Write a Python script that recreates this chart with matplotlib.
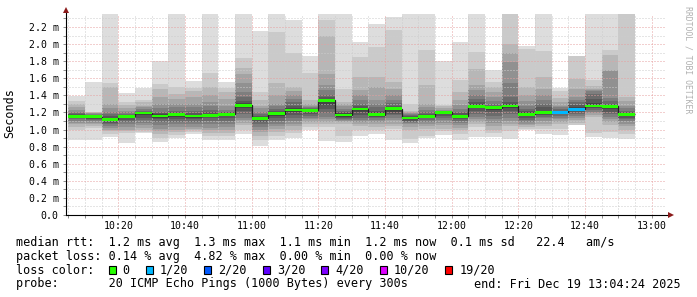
import numpy as np
import matplotlib
matplotlib.use("Agg")
import matplotlib.pyplot as plt
from matplotlib.patches import Rectangle

# ---------------- data ----------------
# start of each 5-minute smoke bar, minutes after 10:00
bar_start_min = list(range(5, 175, 5))

# median RTT (ms) for each bar
medians = [1.155, 1.15, 1.12, 1.155, 1.195, 1.16, 1.175, 1.16, 1.165, 1.18,
           1.285, 1.13, 1.185, 1.23, 1.225, 1.34, 1.17, 1.24, 1.175, 1.245,
           1.135, 1.155, 1.20, 1.155, 1.27, 1.255, 1.275, 1.18, 1.197, 1.20,
           1.237, 1.275, 1.27, 1.18]

# lost pings (of 20) per bar
loss = [0, 0, 0, 0, 0, 0, 0, 0, 0, 0,
        0, 0, 0, 0, 0, 0, 0, 0, 0, 0,
        0, 0, 0, 0, 0, 0, 0, 0, 0, 1,
        1, 0, 0, 0]

nan = float("nan")
# 20 sorted ping times (ms) per bar (values above 2.35 are off the chart)
pings = [
    [0.88, 1.00, 1.03, 1.06, 1.08, 1.10, 1.12, 1.13, 1.14, 1.15, 1.16, 1.17, 1.18, 1.19, 1.21, 1.23, 1.26, 1.30, 1.33, 1.39],
    [0.88, 1.02, 1.04, 1.06, 1.08, 1.10, 1.11, 1.12, 1.13, 1.145, 1.155, 1.16, 1.17, 1.175, 1.18, 1.19, 1.195, 1.20, 1.21, 1.56],
    [0.91, 0.95, 0.98, 1.00, 1.02, 1.04, 1.06, 1.08, 1.10, 1.115, 1.125, 1.14, 1.16, 1.18, 1.21, 1.25, 1.30, 1.50, 1.54, 2.50],
    [0.84, 0.96, 0.98, 1.00, 1.03, 1.06, 1.09, 1.11, 1.13, 1.15, 1.16, 1.165, 1.17, 1.18, 1.20, 1.22, 1.25, 1.29, 1.32, 1.43],
    [0.955, 0.97, 0.99, 1.02, 1.05, 1.08, 1.11, 1.14, 1.17, 1.19, 1.20, 1.205, 1.21, 1.22, 1.24, 1.26, 1.28, 1.32, 1.35, 1.49],
    [0.85, 0.90, 0.95, 0.98, 1.01, 1.05, 1.09, 1.12, 1.14, 1.16, 1.17, 1.18, 1.19, 1.21, 1.25, 1.30, 1.38, 1.47, 1.53, 1.80],
    [0.90, 0.94, 0.97, 1.00, 1.03, 1.06, 1.09, 1.12, 1.15, 1.17, 1.18, 1.19, 1.20, 1.22, 1.26, 1.30, 1.36, 1.42, 1.50, 2.50],
    [0.95, 0.97, 0.99, 1.01, 1.03, 1.06, 1.09, 1.12, 1.14, 1.16, 1.165, 1.17, 1.19, 1.22, 1.26, 1.30, 1.38, 1.45, 1.49, 1.57],
    [0.88, 0.93, 0.96, 0.99, 1.02, 1.06, 1.10, 1.13, 1.15, 1.165, 1.17, 1.18, 1.20, 1.23, 1.27, 1.32, 1.40, 1.50, 1.66, 2.50],
    [0.88, 0.93, 0.96, 0.99, 1.03, 1.07, 1.10, 1.13, 1.16, 1.18, 1.185, 1.19, 1.20, 1.21, 1.23, 1.28, 1.36, 1.44, 1.49, 1.56],
    [0.95, 1.00, 1.05, 1.08, 1.11, 1.14, 1.18, 1.22, 1.25, 1.28, 1.29, 1.31, 1.33, 1.38, 1.44, 1.55, 1.65, 1.72, 1.84, 2.50],
    [0.81, 0.88, 0.93, 0.97, 1.00, 1.03, 1.06, 1.09, 1.11, 1.13, 1.14, 1.15, 1.16, 1.18, 1.21, 1.25, 1.28, 1.35, 1.44, 2.15],
    [0.88, 0.93, 0.97, 1.01, 1.04, 1.07, 1.10, 1.13, 1.16, 1.18, 1.19, 1.20, 1.22, 1.24, 1.27, 1.30, 1.40, 1.55, 2.14, 2.50],
    [0.90, 0.96, 1.00, 1.04, 1.07, 1.10, 1.13, 1.17, 1.20, 1.225, 1.235, 1.25, 1.28, 1.32, 1.36, 1.40, 1.45, 1.50, 1.90, 2.28],
    [1.00, 1.03, 1.06, 1.09, 1.12, 1.14, 1.16, 1.18, 1.20, 1.22, 1.23, 1.235, 1.24, 1.25, 1.26, 1.28, 1.30, 1.34, 1.66, 1.86],
    [0.87, 1.03, 1.07, 1.09, 1.12, 1.15, 1.19, 1.24, 1.29, 1.335, 1.345, 1.36, 1.38, 1.40, 1.46, 1.52, 1.65, 2.10, 2.28, 2.50],
    [0.86, 0.93, 1.07, 1.09, 1.10, 1.11, 1.12, 1.13, 1.15, 1.165, 1.175, 1.19, 1.20, 1.22, 1.24, 1.27, 1.30, 1.32, 1.47, 2.50],
    [0.93, 1.00, 1.04, 1.07, 1.09, 1.11, 1.14, 1.17, 1.20, 1.235, 1.245, 1.25, 1.27, 1.30, 1.34, 1.40, 1.46, 1.61, 1.85, 2.03],
    [0.95, 1.00, 1.03, 1.06, 1.09, 1.11, 1.13, 1.15, 1.16, 1.17, 1.18, 1.20, 1.22, 1.26, 1.30, 1.34, 1.50, 1.61, 1.965, 2.24],
    [0.88, 1.01, 1.04, 1.07, 1.11, 1.14, 1.17, 1.185, 1.21, 1.24, 1.25, 1.26, 1.28, 1.31, 1.35, 1.40, 1.47, 1.555, 2.16, 2.32],
    [0.84, 0.89, 1.00, 1.03, 1.06, 1.08, 1.09, 1.10, 1.12, 1.13, 1.14, 1.15, 1.16, 1.17, 1.18, 1.19, 1.20, 1.22, 1.30, 2.50],
    [0.90, 0.93, 1.01, 1.04, 1.07, 1.09, 1.11, 1.13, 1.14, 1.15, 1.16, 1.17, 1.185, 1.20, 1.23, 1.26, 1.30, 1.52, 1.93, 2.50],
    [0.94, 0.98, 1.01, 1.05, 1.08, 1.11, 1.14, 1.16, 1.18, 1.195, 1.20, 1.205, 1.21, 1.215, 1.22, 1.23, 1.25, 1.27, 1.29, 1.80],
    [0.88, 0.95, 0.99, 1.02, 1.05, 1.08, 1.10, 1.12, 1.14, 1.15, 1.16, 1.17, 1.19, 1.205, 1.24, 1.29, 1.34, 1.44, 1.575, 2.02],
    [0.91, 1.03, 1.06, 1.09, 1.12, 1.15, 1.185, 1.22, 1.25, 1.27, 1.28, 1.30, 1.32, 1.36, 1.40, 1.46, 1.52, 1.71, 1.91, 2.50],
    [0.91, 0.96, 1.00, 1.04, 1.08, 1.12, 1.16, 1.20, 1.23, 1.25, 1.255, 1.265, 1.28, 1.30, 1.33, 1.38, 1.44, 1.50, 1.555, 1.70],
    [0.89, 0.98, 1.04, 1.07, 1.10, 1.14, 1.18, 1.22, 1.25, 1.275, 1.285, 1.295, 1.32, 1.38, 1.54, 1.79, 1.89, 2.00, 2.45, 2.50],
    [0.99, 1.01, 1.03, 1.05, 1.07, 1.09, 1.11, 1.13, 1.16, 1.18, 1.19, 1.20, 1.22, 1.245, 1.28, 1.33, 1.40, 1.50, 1.945, 1.98],
    [0.95, 1.01, 1.04, 1.07, 1.10, 1.13, 1.15, 1.17, 1.185, 1.195, 1.20, 1.22, 1.26, 1.30, 1.35, 1.40, 1.48, 1.61, 1.92, 2.50],
    [0.94, 1.01, 1.06, 1.09, 1.12, 1.14, 1.16, 1.18, 1.19, 1.20, 1.205, 1.21, 1.22, 1.24, 1.26, 1.28, 1.32, 1.37, 1.45, 1.49],
    [1.03, 1.05, 1.08, 1.11, 1.14, 1.16, 1.18, 1.20, 1.22, 1.235, 1.245, 1.26, 1.29, 1.32, 1.35, 1.38, 1.48, 1.59, 1.86, nan],
    [0.91, 0.96, 1.15, 1.17, 1.19, 1.21, 1.23, 1.25, 1.26, 1.27, 1.285, 1.31, 1.36, 1.42, 1.45, 1.46, 1.47, 1.51, 1.58, 2.50],
    [0.90, 0.97, 1.05, 1.09, 1.12, 1.15, 1.18, 1.21, 1.24, 1.265, 1.275, 1.29, 1.30, 1.33, 1.37, 1.69, 1.70, 1.87, 1.93, 2.50],
    [0.89, 0.95, 1.00, 1.04, 1.07, 1.10, 1.12, 1.14, 1.16, 1.18, 1.185, 1.19, 1.20, 1.22, 1.25, 1.28, 1.33, 1.38, 2.45, 2.50],
]

x_tick_labels = ["10:20", "10:40", "11:00", "11:20", "11:40", "12:00", "12:20", "12:40", "13:00"]
y_tick_values = [0.0, 0.2, 0.4, 0.6, 0.8, 1.0, 1.2, 1.4, 1.6, 1.8, 2.0, 2.2]
y_tick_labels = ["0.0", "0.2 m", "0.4 m", "0.6 m", "0.8 m", "1.0 m", "1.2 m",
                 "1.4 m", "1.6 m", "1.8 m", "2.0 m", "2.2 m"]

loss_labels = ["0", "1/20", "2/20", "3/20", "4/20", "10/20", "19/20"]
loss_colors = ["#26ff00", "#00b8ff", "#0059ff", "#5e00ff", "#7e00ff", "#dd00ff", "#ff0000"]
loss_color_for_count = {0: "#26ff00", 1: "#00b8ff", 2: "#0059ff", 3: "#5e00ff",
                        4: "#7e00ff", 10: "#dd00ff", 19: "#ff0000"}

line_rtt = "median rtt:  1.2 ms avg  1.3 ms max  1.1 ms min  1.2 ms now  0.1 ms sd   22.4   am/s"
line_loss = "packet loss: 0.14 % avg  4.82 % max  0.00 % min  0.00 % now"
line_color = "loss color:"
line_probe = "probe:       20 ICMP Echo Pings (1000 Bytes) every 300s"
line_end = "end: Fri Dec 19 13:04:24 2025"
watermark = "RRDTOOL / TOBI OETIKER"
y_title = "Seconds"

# ---------------- drawing ----------------
MONO = "DejaVu Sans Mono"
plt.rcParams["font.family"] = [MONO]
W, H = 697, 297
fig = plt.figure(figsize=(W / 100, H / 100), dpi=100)
fig.patch.set_facecolor("white")

AX_L, AX_R, AX_B, AX_T = 66.3, 666.3, 215.0, 14.0
ax = fig.add_axes([AX_L / W, 1 - AX_B / H, (AX_R - AX_L) / W, (AX_B - AX_T) / H])
ax.set_facecolor("white")
XMIN, XMAX = 4.4, 184.4
YMAX = 2.352
ax.set_xlim(XMIN, XMAX)
ax.set_ylim(0, YMAX)

P = np.array(pings, dtype=float)
starts = np.array(bar_start_min, dtype=float)
BW = 5.0
for k in range(1, 11):
    lo = P[:, k - 1]
    hi = P[:, 20 - k]
    ok = ~np.isnan(lo) & ~np.isnan(hi)
    g = int(190 / 10 * (10 - k)) + 50
    col = "#%02x%02x%02x" % (g, g, g)
    ax.bar(starts[ok], (hi - lo)[ok], bottom=lo[ok], width=BW, align="edge",
           color=col, linewidth=0, zorder=1 + k * 0.01)

med = np.array(medians)
edges = np.append(starts, starts[-1] + BW)
ax.stairs(med, edges, baseline=None, color="#202020", lw=0.9, zorder=3)
px_per_unit = (AX_B - AX_T) / YMAX
sw = 1.35 / px_per_unit
ax.bar(starts, 2 * sw, bottom=med - sw, width=BW, align="edge",
       color=[loss_color_for_count[c] for c in loss], linewidth=0, zorder=4)

# grid / ticks
def label_to_min(s):
    h, m = s.split(":")
    return (int(h) - 10) * 60 + int(m)

x_major = [label_to_min(s) for s in x_tick_labels]
x_minor = [m for m in range(5, 185, 5) if m not in x_major]
ax.set_xticks(x_major)
ax.set_xticklabels(x_tick_labels)
ax.set_xticks(x_minor, minor=True)
ax.set_yticks(y_tick_values)
ax.set_yticklabels(y_tick_labels)
ax.set_yticks([v / 10 for v in range(1, 24, 2)], minor=True)

ax.set_axisbelow(False)
dot = (0, (1, 2))
ax.grid(which="minor", color="#cdcdcd", linestyle=dot, linewidth=0.72)
ax.grid(which="major", color="#e6a0a0", linestyle=dot, linewidth=0.72)

ax.tick_params(which="both", direction="out", length=2, width=0.72,
               labelsize=7.1, colors="#909090", labelcolor="black")
ax.tick_params(axis="x", which="both", pad=2.2)
ax.tick_params(axis="y", which="both", pad=3.4)
for t in ax.get_xticklabels() + ax.get_yticklabels():
    t.set_family(MONO)

for s in ax.spines.values():
    s.set_visible(False)

# axes lines with arrows
ax_h = AX_B - AX_T
ax_w = AX_R - AX_L
ax.plot([0, 0], [0, 1 + 4 / ax_h], transform=ax.transAxes, color="black",
        lw=0.8, clip_on=False, zorder=6)
ax.plot([0, 1 + 3 / ax_w], [0, 0], transform=ax.transAxes, color="black",
        lw=0.8, clip_on=False, zorder=6)
ax.plot([0], [1 + 3.8 / ax_h], marker="^", ms=4.6, color="#8b1a1a",
        transform=ax.transAxes, clip_on=False, zorder=7, mew=0)
ax.plot([1 + 4.3 / ax_w], [0], marker=">", ms=4.6, color="#8b1a1a",
        transform=ax.transAxes, clip_on=False, zorder=7, mew=0)

# texts
def fx(px):
    return px / W

def fy(py):
    return 1 - py / H

FS = 8.47
fig.text(fx(10), fy(113.5), y_title, rotation=90, ha="center", va="center",
         fontsize=FS, family=MONO)
fig.text(fx(688), fy(60), watermark, rotation=270, ha="center", va="center",
         fontsize=5.9, color="#b0b0b0", family=MONO)

fig.text(fx(16), fy(246), line_rtt, ha="left", va="baseline", fontsize=FS, family=MONO)
fig.text(fx(16), fy(259.8), line_loss, ha="left", va="baseline", fontsize=FS, family=MONO)
fig.text(fx(16), fy(273.7), line_color, ha="left", va="baseline", fontsize=FS, family=MONO)
fig.text(fx(16), fy(287.5), line_probe, ha="left", va="baseline", fontsize=FS, family=MONO)
fig.text(fx(681), fy(287.5), line_end, ha="right", va="baseline", fontsize=FS, family=MONO)

CH = 7.08
bx = 108.7
for lab, col in zip(loss_labels, loss_colors):
    fig.patches.append(Rectangle((fx(bx), fy(274.0)), 7 / W, 8.4 / H,
                                 transform=fig.transFigure, facecolor=col,
                                 edgecolor="black", linewidth=0.8, figure=fig))
    fig.text(fx(bx + 14), fy(273.7), lab, ha="left", va="baseline",
             fontsize=FS, family=MONO)
    bx += (len(lab) + 2) * CH + 16

fig.savefig("out.png", dpi=100, facecolor="white")
